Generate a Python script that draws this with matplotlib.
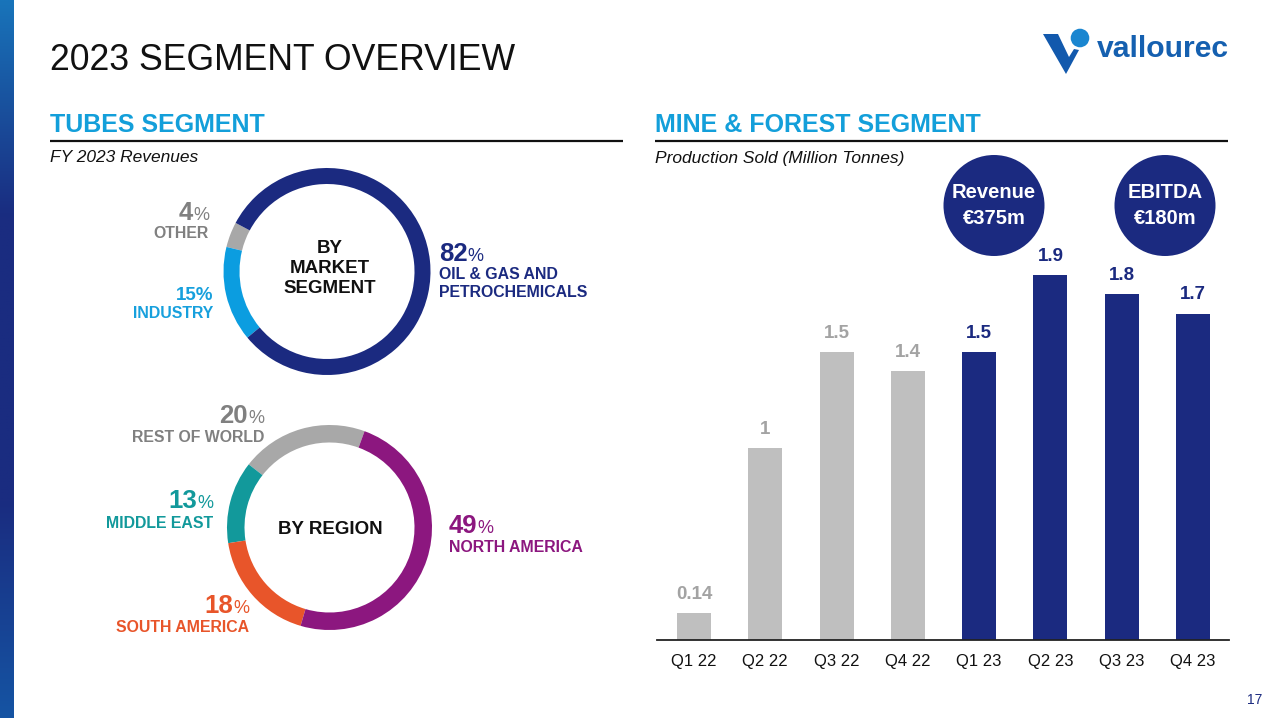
import matplotlib
matplotlib.use("Agg")
import matplotlib.pyplot as plt
import numpy as np
from matplotlib.patches import Circle, Polygon
from matplotlib.colors import LinearSegmentedColormap

plt.rcParams['font.family'] = ['Liberation Sans', 'DejaVu Sans']

# ---------------- data ----------------
market_labels = ["OTHER", "INDUSTRY", "OIL & GAS AND\nPETROCHEMICALS"]
market_values = [4, 15, 82]
region_labels = ["REST OF WORLD", "MIDDLE EAST", "SOUTH AMERICA", "NORTH AMERICA"]
region_values = [20, 13, 18, 49]

quarters = ["Q1 22", "Q2 22", "Q3 22", "Q4 22", "Q1 23", "Q2 23", "Q3 23", "Q4 23"]
production = [0.14, 1.0, 1.5, 1.4, 1.5, 1.9, 1.8, 1.7]
production_labels = ["0.14", "1", "1.5", "1.4", "1.5", "1.9", "1.8", "1.7"]
years = [2022, 2022, 2022, 2022, 2023, 2023, 2023, 2023]

kpi_names = ["Revenue", "EBITDA"]
kpi_values = ["€375m", "€180m"]

# ---------------- style ----------------
NAVY = "#1b2a80"
LBLUE = "#0b9de0"
GRAY_RING = "#a8a8a8"
GRAY_TXT = "#808080"
TEAL = "#12999b"
ORANGE = "#e8552a"
PURPLE = "#8c177f"
HEAD = "#139fda"
BAR22 = "#bfbfbf"
LBL22 = "#a3a3a3"

W, H = 1280, 718
fig = plt.figure(figsize=(W / 100, H / 100), dpi=100)
fig.patch.set_facecolor("white")

# overlay axes in pixel coordinates
ov = fig.add_axes([0, 0, 1, 1], zorder=0)
ov.set_xlim(0, W)
ov.set_ylim(H, 0)
ov.axis("off")

# left gradient bar
cmap = LinearSegmentedColormap.from_list(
    "side", [(0.0, "#1874ba"), (0.3, "#1a2c80"), (0.7, "#1a2c80"), (1.0, "#1554a3")])
grad = np.linspace(0, 1, 256).reshape(-1, 1)
ov.imshow(grad, cmap=cmap, extent=[0, 14, H, 0], aspect="auto", zorder=1)
ov.set_xlim(0, W)
ov.set_ylim(H, 0)

# title
ov.text(50, 60, "2023 SEGMENT OVERVIEW", fontsize=25.7, color="#111111",
        va="center", ha="left")

# section headers
ov.text(50, 125, "TUBES SEGMENT", fontsize=18, weight="bold", color=HEAD, va="center")
ov.text(655, 125, "MINE & FOREST SEGMENT", fontsize=18, weight="bold", color=HEAD, va="center")
ov.plot([50, 623], [141, 141], color="#111111", lw=1.6, solid_capstyle="butt")
ov.plot([655, 1228], [141, 141], color="#111111", lw=1.6, solid_capstyle="butt")
ov.text(50, 158, "FY 2023 Revenues", fontsize=12.5, style="italic", color="#111111", va="center")
ov.text(655, 158, "Production Sold (Million Tonnes)", fontsize=12.5, style="italic",
        color="#111111", va="center")

# logo
ov.add_patch(Polygon([(1043, 34), (1058, 34), (1069, 57), (1074, 49), (1079, 50), (1066, 74)],
                     closed=True, facecolor="#1259ad", edgecolor="none", zorder=2))
ov.add_patch(Circle((1080, 38), 9.3, facecolor="#1a86d0", edgecolor="none", zorder=2))
ov.text(1097, 57, "vallourec", fontsize=21.7, weight="bold", color="#1560b0",
        va="baseline", ha="left")

# page number
ov.text(1262, 700, "17", fontsize=10, color=NAVY, ha="right", va="center")

renderer = fig.canvas.get_renderer()


def pct_label(x, y_base, num, color, align, nsize=18.5, psize=13):
    if align == "right":
        p = ov.text(x, y_base, "%", fontsize=psize, color=color,
                    ha="right", va="baseline")
        w = p.get_window_extent(renderer).width
        ov.text(x - w, y_base, num, fontsize=nsize, weight="bold", color=color,
                ha="right", va="baseline")
    else:
        n = ov.text(x, y_base, num, fontsize=nsize, weight="bold", color=color,
                    ha="left", va="baseline")
        w = n.get_window_extent(renderer).width
        ov.text(x + w, y_base, "%", fontsize=psize, color=color,
                ha="left", va="baseline")


def small_label(x, y, s, color, ha):
    ov.text(x, y, s, fontsize=11.4, weight="bold", color=color, ha=ha, va="center",
            linespacing=1.2)


# ---------------- donut 1 ----------------
cx1, cy1, r1 = 327, 271.5, 103.5
a1 = fig.add_axes([(cx1 - r1) / W, (H - (cy1 + r1)) / H, 2 * r1 / W, 2 * r1 / H], zorder=2)
a1.pie(market_values, colors=[GRAY_RING, LBLUE, NAVY], startangle=152, counterclock=True,
       radius=1, wedgeprops=dict(width=16 / r1, edgecolor="none"))
a1.set_xlim(-1, 1)
a1.set_ylim(-1, 1)
a1.axis("off")
ov.text(330, 268.5, "BY\nMARKET\nSEGMENT", fontsize=13.5, weight="bold", color="#111111",
        ha="center", va="center", linespacing=1.26)

pct_label(209, 220.5, str(market_values[0]), GRAY_TXT, "right")
small_label(209, 234, market_labels[0], GRAY_TXT, "right")
ov.text(213, 296, f"{market_values[1]}%", fontsize=13.5, weight="bold", color="#17a0dd",
        ha="right", va="center")
small_label(213, 313, market_labels[1], "#17a0dd", "right")
pct_label(439, 261, str(market_values[2]), NAVY, "left")
small_label(439, 283.5, market_labels[2], NAVY, "left")

# ---------------- donut 2 ----------------
cx2, cy2, r2 = 329.5, 527.5, 102.5
a2 = fig.add_axes([(cx2 - r2) / W, (H - (cy2 + r2)) / H, 2 * r2 / W, 2 * r2 / H], zorder=2)
a2.pie(region_values, colors=[GRAY_RING, TEAL, ORANGE, PURPLE], startangle=70,
       counterclock=True, radius=1, wedgeprops=dict(width=17.5 / r2, edgecolor="none"))
a2.set_xlim(-1, 1)
a2.set_ylim(-1, 1)
a2.axis("off")
ov.text(330, 530, "BY REGION", fontsize=13.5, weight="bold", color="#111111",
        ha="center", va="center")

pct_label(264, 423, str(region_values[0]), GRAY_TXT, "right")
small_label(264, 437, region_labels[0], GRAY_TXT, "right")
pct_label(213, 508, str(region_values[1]), TEAL, "right")
small_label(213, 523, region_labels[1], TEAL, "right")
pct_label(249, 613, str(region_values[2]), ORANGE, "right")
small_label(249, 627, region_labels[2], ORANGE, "right")
pct_label(449, 533, str(region_values[3]), PURPLE, "left")
small_label(449, 547, region_labels[3], PURPLE, "left")

# ---------------- bar chart ----------------
px_per_unit = 192.0
base_y = 640
ymax = 2.2
top_y = base_y - ymax * px_per_unit
bx0, bx1 = 657, 1229
c0, c7 = 694, 1193
step = (c7 - c0) / 7
xl = -(c0 - bx0) / step
xr = 7 + (bx1 - c7) / step
ab = fig.add_axes([bx0 / W, (H - base_y) / H, (bx1 - bx0) / W, (base_y - top_y) / H], zorder=2)
ab.patch.set_alpha(0)
xs = np.arange(len(quarters))
bar_colors = [BAR22 if y == 2022 else NAVY for y in years]
lbl_colors = [LBL22 if y == 2022 else NAVY for y in years]
ab.bar(xs, production, width=34 / step, color=bar_colors, edgecolor="none")
for x, v, s, c in zip(xs, production, production_labels, lbl_colors):
    ab.annotate(s, (x, v), xytext=(0, 19), textcoords="offset pixels", ha="center",
                va="center", fontsize=13.5, weight="bold", color=c)
ab.set_xlim(xl, xr)
ab.set_ylim(0, ymax)
for sp in ["top", "right", "left"]:
    ab.spines[sp].set_visible(False)
ab.spines["bottom"].set_color("#222222")
ab.spines["bottom"].set_linewidth(1.3)
ab.set_yticks([])
ab.set_xticks(xs)
ab.set_xticklabels(quarters, fontsize=12, color="#111111")
ab.tick_params(axis="x", length=0, pad=10)

# KPI circles
for (kx, name, val) in zip([994, 1165], kpi_names, kpi_values):
    ov.add_patch(Circle((kx, 205.5), 50.5, facecolor=NAVY, edgecolor="none", zorder=3))
    ov.text(kx, 192.5, name, fontsize=14.5, weight="bold", color="white", ha="center",
            va="center", zorder=4)
    ov.text(kx, 218, val, fontsize=14.5, weight="bold", color="white", ha="center",
            va="center", zorder=4)

fig.savefig("out.png", dpi=100, facecolor="white")
